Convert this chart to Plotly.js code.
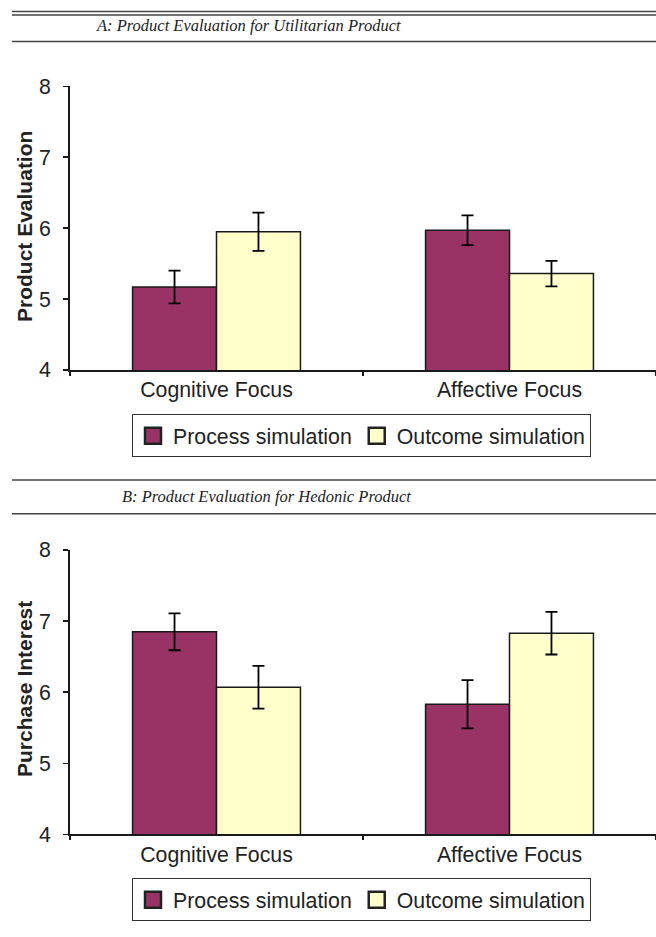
<!DOCTYPE html>
<html>
<head>
<meta charset="utf-8">
<script src="https://cdn.plot.ly/plotly-3.0.1.min.js"></script>
<style>html,body{margin:0;padding:0;background:#fff;}</style>
</head>
<body>
<div id="chart" style="width:656px;height:937px;"></div>
<script>
// ---- data ----
const categories = ['Cognitive Focus', 'Affective Focus'];
const seriesNames = ['Process simulation', 'Outcome simulation'];
const yTicks = [4, 5, 6, 7, 8];

const aProcess = [5.17, 5.97];
const aProcessErr = [0.23, 0.21];
const aOutcome = [5.95, 5.36];
const aOutcomeErr = [0.27, 0.18];

const bProcess = [6.85, 5.83];
const bProcessErr = [0.26, 0.34];
const bOutcome = [6.07, 6.83];
const bOutcomeErr = [0.30, 0.30];

const titleA = 'A: Product Evaluation for Utilitarian Product';
const titleB = 'B: Product Evaluation for Hedonic Product';
const yTitleA = 'Product Evaluation';
const yTitleB = 'Purchase Interest';

// ---- styling ----
const W = 656, H = 937;
const px = v => v / W;
const py = v => 1 - v / H;
const processColor = '#993366';
const outcomeColor = '#FFFFCC';
const edge = '#1a1a1a';
const sans = 'Liberation Sans, Arial, sans-serif';
const serif = 'Liberation Serif, Times New Roman, serif';
const FS = 21.3;

function barTrace(name, x, y, err, color, xa, ya) {
  return {
    type: 'bar', name: name, x: x, y: y,
    xaxis: xa, yaxis: ya, showlegend: false,
    marker: {color: color, line: {color: edge, width: 1.5}},
    error_y: {type: 'data', array: err, visible: true, color: '#000', thickness: 1.8, width: 6},
    hoverinfo: 'none'
  };
}
// legend-only entries (no points drawn), so the legend keys can be larger squares
function legendKey(name, color, xa, ya, leg) {
  return {
    type: 'scatter', mode: 'markers', name: name, x: [categories[0]], y: [null],
    xaxis: xa, yaxis: ya, legend: leg, showlegend: true, hoverinfo: 'none',
    marker: {symbol: 'square', size: 16, color: color, line: {color: '#222', width: 2.5}}
  };
}

const data = [
  barTrace(seriesNames[0], categories, aProcess, aProcessErr, processColor, 'x', 'y'),
  barTrace(seriesNames[1], categories, aOutcome, aOutcomeErr, outcomeColor, 'x', 'y'),
  barTrace(seriesNames[0], categories, bProcess, bProcessErr, processColor, 'x2', 'y2'),
  barTrace(seriesNames[1], categories, bOutcome, bOutcomeErr, outcomeColor, 'x2', 'y2'),
  legendKey(seriesNames[0], processColor, 'x', 'y', 'legend'),
  legendKey(seriesNames[1], outcomeColor, 'x', 'y', 'legend'),
  legendKey(seriesNames[0], processColor, 'x2', 'y2', 'legend2'),
  legendKey(seriesNames[1], outcomeColor, 'x2', 'y2', 'legend2')
];

function xAxis(anchor) {
  return {
    domain: [px(70), 1], anchor: anchor, type: 'category',
    showline: true, linecolor: '#1a1a1a', linewidth: 1.8,
    ticks: 'outside', ticklen: 4, tickwidth: 1.5, tickcolor: '#1a1a1a',
    tickson: 'boundaries', showgrid: false, zeroline: false,
    tickfont: {family: sans, size: FS, color: '#222'}, fixedrange: true
  };
}
function yAxis(anchor, top, bottom) {
  return {
    domain: [py(bottom), py(top)], anchor: anchor, range: [4, 8],
    tickvals: yTicks, ticktext: yTicks.map(String),
    showline: true, linecolor: '#1a1a1a', linewidth: 1.8,
    ticks: 'outside', ticklen: 5, tickwidth: 1.5, tickcolor: '#1a1a1a',
    ticklabelstandoff: 8,
    showgrid: false, zeroline: false,
    tickfont: {family: sans, size: FS, color: '#222'}, fixedrange: true
  };
}

function hline(y, x0) {
  return {type: 'line', xref: 'paper', yref: 'paper', x0: px(x0), x1: 1, y0: py(y), y1: py(y),
          line: {color: '#444', width: 1.6}};
}

function legendCfg(top) {
  return {
    orientation: 'h', x: px(132), xanchor: 'left', y: py(top), yanchor: 'top',
    bordercolor: '#333', borderwidth: 1, bgcolor: '#fff',
    font: {family: sans, size: FS, color: '#222'},
    traceorder: 'normal', itemsizing: 'trace'
  };
}

const layout = {
  width: W, height: H, autosize: false,
  margin: {l: 0, r: 0, t: 0, b: 0},
  paper_bgcolor: '#fff', plot_bgcolor: '#fff',
  barmode: 'group', bargap: 0.427, bargroupgap: 0,
  showlegend: true,
  xaxis: xAxis('y'),
  yaxis: yAxis('x', 86.3, 370),
  xaxis2: xAxis('y2'),
  yaxis2: yAxis('x2', 550, 834.4),
  legend: legendCfg(414.3),
  legend2: legendCfg(878.3),
  shapes: [hline(11.5, 12), hline(15, 12), hline(41.5, 12), hline(480, 12), hline(513.7, 12)],
  annotations: [
    {text: titleA, xref: 'paper', yref: 'paper', x: px(248.5), y: py(26), xanchor: 'center', yanchor: 'middle',
     showarrow: false, font: {family: serif, size: 16.5, color: '#222', style: 'italic'}},
    {text: titleB, xref: 'paper', yref: 'paper', x: px(266), y: py(497), xanchor: 'center', yanchor: 'middle',
     showarrow: false, font: {family: serif, size: 16.5, color: '#222', style: 'italic'}},
    {text: '<b>' + yTitleA + '</b>', xref: 'paper', yref: 'paper', x: px(24), y: py(227), textangle: -90,
     xanchor: 'center', yanchor: 'middle', showarrow: false, font: {family: sans, size: 21, color: '#222'}},
    {text: '<b>' + yTitleB + '</b>', xref: 'paper', yref: 'paper', x: px(24), y: py(689), textangle: -90,
     xanchor: 'center', yanchor: 'middle', showarrow: false, font: {family: sans, size: 21, color: '#222'}}
  ]
};

Plotly.newPlot('chart', data, layout, {staticPlot: true, displayModeBar: false});
</script>
</body>
</html>
